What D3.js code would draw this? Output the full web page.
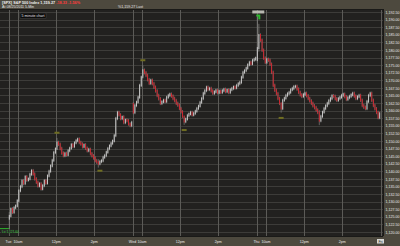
<!DOCTYPE html>
<html>
<head>
<meta charset="utf-8">
<script src="https://cdn.jsdelivr.net/npm/d3@7"></script>
<style>
  body { margin: 0; background: #22211f; }
  svg { display: block; font-family: "Liberation Sans", Arial, sans-serif; }
</style>
</head>
<body>
<div id="chart"></div>
<script>
// SPX 5-min bars, three sessions
var days = ["Tue", "Wed", "Thu"];
var nextDay = "Fri";
var hourLabels = ["10am", "12pm", "2pm"];
var hourMinutes = [30, 150, 270];   // minutes after the 9:30 open
var dayOpens = [1124.4, 1162.2, 1176.7];

var closesTue = [1125.3, 1127.6, 1126.5, 1128.0, 1128.6, 1130.3, 1133.6, 1135.0, 1136.9, 1136.0,
  1138.2, 1137.1, 1137.5, 1139.0, 1140.2, 1139.1, 1137.5, 1136.4, 1135.2, 1135.9,
  1134.2, 1135.3, 1136.9, 1136.1, 1138.5, 1140.0, 1141.8, 1143.6, 1146.2, 1147.4,
  1149.5, 1148.9, 1147.5, 1146.0, 1145.2, 1145.9, 1145.4, 1146.8, 1147.6, 1148.8,
  1148.2, 1149.4, 1150.1, 1150.6, 1149.5, 1149.0, 1148.1, 1148.7, 1147.6, 1146.8,
  1147.2, 1145.8, 1145.1, 1144.4, 1143.5, 1143.0, 1142.5, 1143.2, 1143.5, 1144.6,
  1145.2, 1146.3, 1147.5, 1148.4, 1149.2, 1150.0, 1151.8, 1157.4, 1159.4, 1158.6,
  1157.4, 1157.9, 1156.1, 1156.9, 1156.7, 1155.6, 1155.1, 1156.1];

var closesWed = [1159.4, 1161.7, 1162.8, 1164.4, 1168.3, 1171.0, 1173.3, 1172.5, 1171.6, 1170.2,
  1169.0, 1170.0, 1168.9, 1167.7, 1166.5, 1165.0, 1163.9, 1162.4, 1162.9, 1163.4,
  1163.0, 1164.4, 1165.0, 1165.4, 1164.8, 1164.0, 1163.3, 1162.4, 1161.8, 1160.7,
  1159.6, 1158.1, 1156.4, 1157.2, 1158.4, 1158.9, 1159.4, 1158.6, 1159.1, 1159.8,
  1160.7, 1161.5, 1162.7, 1164.0, 1165.7, 1166.6, 1167.7, 1167.0, 1167.3, 1166.5,
  1165.7, 1166.2, 1166.7, 1165.9, 1166.4, 1166.0, 1166.6, 1167.0, 1166.3, 1166.8,
  1166.0, 1166.9, 1167.3, 1167.8, 1167.5, 1168.3, 1168.9, 1169.3, 1171.0, 1172.6,
  1173.2, 1174.0, 1175.1, 1175.9, 1175.4, 1176.6, 1176.9, 1177.3];

var closesThu = [1180.6, 1184.9, 1183.2, 1179.9, 1177.3, 1175.9, 1176.9, 1176.6, 1175.3, 1172.6,
  1168.3, 1166.7, 1165.6, 1164.0, 1162.4, 1160.7, 1163.4, 1164.1, 1165.0, 1165.6,
  1166.0, 1166.9, 1167.3, 1167.9, 1168.0, 1167.1, 1166.0, 1165.2, 1164.7, 1165.3,
  1165.7, 1164.9, 1164.0, 1163.2, 1162.4, 1161.6, 1161.0, 1160.2, 1159.4, 1156.7,
  1158.1, 1159.5, 1160.7, 1161.6, 1162.4, 1163.3, 1164.0, 1164.9, 1164.7, 1163.9,
  1163.4, 1164.0, 1164.4, 1165.0, 1165.4, 1164.6, 1163.7, 1164.3, 1164.7, 1165.2,
  1165.7, 1164.8, 1164.0, 1164.6, 1165.0, 1163.4, 1161.7, 1161.1, 1160.7, 1163.0,
  1165.0, 1165.7, 1163.4, 1161.7, 1160.6, 1159.4, 1157.7, 1159.1];

// [day, bar, low, high] for the bars with long wicks
var wicks = [[0, 0, 1121.6, 1126.0], [0, 30, 1148.6, 1150.4], [0, 56, 1141.8, 1143.4],
  [1, 6, 1171.8, 1174.3], [1, 32, 1155.9, 1157.6], [2, 0, 1176.4, 1190.7],
  [2, 1, 1180.0, 1188.0], [2, 15, 1159.9, 1162.0], [2, 39, 1155.8, 1159.6]];

// swing markers: [day, bar, "hi" | "lo"]
var swings = [[0, 30, "hi"], [0, 57, "lo"], [1, 6, "hi"], [1, 32, "lo"], [2, 15, "lo"]];

var priceTicks = d3.range(1120, 1192.51, 2.5);

var width = 400, height = 246;
var plotRight = 383, plotTop = 10, plotBottom = 236;

var svg = d3.select("#chart").append("svg")
  .attr("width", width)
  .attr("height", height);

var x = d3.scaleLinear().domain([0, 390 * days.length]).range([8.5, 380.5]);
var y = d3.scaleLinear().domain([1120, 1192.5]).range([232, 12]);

// bars
var bars = [];
[closesTue, closesWed, closesThu].forEach(function(closes, d) {
  closes.forEach(function(c, i) {
    var o = i === 0 ? dayOpens[d] : closes[i - 1];
    var b = { day: d, i: i, t: d * 390 + i * 5 + 2.5, open: o, close: c,
      low: Math.min(o, c), high: Math.max(o, c) };
    wicks.forEach(function(w) {
      if (w[0] === d && w[1] === i) { b.low = w[2]; b.high = w[3]; }
    });
    bars.push(b);
  });
});

svg.append("rect").attr("width", width).attr("height", height).attr("fill", "#22211f");

// grid
svg.append("g").selectAll("line").data(priceTicks).enter().append("line")
  .attr("x1", 0).attr("x2", plotRight)
  .attr("y1", function(d) { return Math.round(y(d)) + 0.5; })
  .attr("y2", function(d) { return Math.round(y(d)) + 0.5; })
  .attr("stroke", "#3d3c39");

var vTicks = [];
days.forEach(function(name, d) {
  vTicks.push({ t: d * 390, label: name, day: true });
  hourMinutes.forEach(function(m, k) { vTicks.push({ t: d * 390 + m, label: hourLabels[k] }); });
});
vTicks.push({ t: 390 * days.length, label: nextDay, day: true, last: true });

svg.append("g").selectAll("line").data(vTicks).enter().append("line")
  .attr("x1", function(d) { return Math.round(x(d.t)) + 0.5; })
  .attr("x2", function(d) { return Math.round(x(d.t)) + 0.5; })
  .attr("y1", plotTop).attr("y2", plotBottom)
  .attr("stroke", "#5c5b57");

var plot = svg.append("g");

// wicks run a little past the body, as on the source chart
plot.selectAll("line.wick").data(bars).enter().append("line")
  .attr("class", "wick")
  .attr("x1", function(d) { return x(d.t); })
  .attr("x2", function(d) { return x(d.t); })
  .attr("y1", function(d) { return y(d.high) - 1.8; })
  .attr("y2", function(d) { return y(d.low) + 1.8; })
  .attr("stroke", "#8e8e8c").attr("stroke-width", 0.6);

plot.selectAll("rect.body").data(bars).enter().append("rect")
  .attr("class", "body")
  .attr("x", function(d) { return x(d.t) - 0.45; })
  .attr("width", 0.9)
  .attr("y", function(d) { return y(Math.max(d.open, d.close)) - 1; })
  .attr("height", function(d) { return Math.abs(y(d.open) - y(d.close)) + 2; })
  .attr("fill", function(d) { return d.close >= d.open ? "#d2d2d2" : "#d9222c"; });

// swing markers
plot.selectAll("rect.swing").data(swings).enter().append("rect")
  .attr("class", "swing")
  .attr("x", function(d) { return x(d[0] * 390 + d[1] * 5 + 2.5) - 2.5; })
  .attr("y", function(d) {
    var b = bars[d[0] * 78 + d[1]];
    return d[2] === "hi" ? y(b.high) - 8 : y(b.low) + 6;
  })
  .attr("width", 5).attr("height", 2)
  .attr("fill", "#6f6d22");

// session high / low flags
var hiBar = bars[2 * 78];
plot.append("rect").attr("x", x(hiBar.t) - 5).attr("y", y(hiBar.high) - 7)
  .attr("width", 12).attr("height", 3).attr("fill", "#b8b8b0");
plot.append("path")
  .attr("d", "M" + (x(hiBar.t) - 1) + "," + (y(hiBar.high) - 3) + "h4v5h-2v-3h-2z")
  .attr("fill", "#2fb82f");

var loBar = bars[0];
plot.append("line").attr("x1", 0).attr("x2", 9)
  .attr("y1", y(loBar.low) + 1.5).attr("y2", y(loBar.low) + 1.5)
  .attr("stroke", "#2fb82f");
plot.append("rect").attr("x", 1).attr("y", y(loBar.low) + 2.5)
  .attr("width", 13).attr("height", 3.5).attr("fill", "#2b2b2b");
plot.append("text").attr("x", 2).attr("y", y(loBar.low) + 5.5)
  .attr("font-size", 3.2).attr("fill", "#39c43a").text("Lo 1,121.60");

// chart type box
svg.append("rect").attr("x", 20).attr("y", 13).attr("width", 26).attr("height", 5.5)
  .attr("fill", "#0b0b0b").attr("stroke", "#555").attr("stroke-width", 0.4);
svg.append("text").attr("x", 33).attr("y", 17.2).attr("text-anchor", "middle")
  .attr("font-size", 3.6).attr("fill", "#e6e6e6").text("5 minute chart");

// header band
svg.append("rect").attr("width", width).attr("height", plotTop).attr("fill", "#4d493e");
svg.append("line").attr("x1", 0).attr("x2", width).attr("y1", plotTop - 0.5).attr("y2", plotTop - 0.5)
  .attr("stroke", "#1a1a18");
var h1 = svg.append("text").attr("x", 2).attr("y", 4).attr("font-size", 3.8).attr("fill", "#f0f0f0");
h1.append("tspan").attr("font-weight", "bold").text("[SPX] S&P 500 Index  ");
h1.append("tspan").attr("font-weight", "bold").text("1,159.27  ");
h1.append("tspan").attr("fill", "#ff3b3b").attr("font-weight", "bold").text("-18.33  -1.56%");
svg.append("text").attr("x", 2).attr("y", 8.2).attr("font-size", 3.6).attr("fill", "#e8e8e8")
  .text("At 08/25/2011      5-Min");
svg.append("text").attr("x", 118).attr("y", 8.2).attr("font-size", 3.6).attr("fill", "#e8e8e8")
  .text("%1,159.27 Last");

// right price panel
svg.append("rect").attr("x", plotRight + 1).attr("y", 0).attr("width", width - plotRight - 1)
  .attr("height", height).attr("fill", "#4d493e");
svg.append("line").attr("x1", plotRight + 0.5).attr("x2", plotRight + 0.5)
  .attr("y1", plotTop).attr("y2", plotBottom).attr("stroke", "#1a1a18");

svg.append("g")
  .attr("transform", "translate(" + (width - 0.5) + ",0)")
  .call(d3.axisLeft(y).tickValues(priceTicks).tickSize(0).tickPadding(0)
    .tickFormat(d3.format(",.2f")))
  .call(function(g) { g.select(".domain").remove(); })
  .selectAll("text")
  .attr("font-size", 3.6)
  .attr("fill", "#ececec")
  .attr("font-family", "Liberation Sans, Arial, sans-serif");

// bottom time panel
svg.append("rect").attr("x", 0).attr("y", plotBottom).attr("width", width)
  .attr("height", height - plotBottom).attr("fill", "#4d493e");
svg.append("line").attr("x1", 0).attr("x2", plotRight).attr("y1", plotBottom + 0.5).attr("y2", plotBottom + 0.5)
  .attr("stroke", "#1a1a18");

var tl = svg.append("g").selectAll("g").data(vTicks).enter().append("g");
tl.filter(function(d) { return d.last; }).append("rect")
  .attr("x", function(d) { return x(d.t) - 3.5; }).attr("y", 239)
  .attr("width", 7).attr("height", 4.5).attr("fill", "#d8d8d4");
tl.append("text")
  .attr("x", function(d) { return Math.max(4, x(d.t)); })
  .attr("y", 242.8)
  .attr("text-anchor", "middle")
  .attr("font-size", 3.6)
  .attr("fill", function(d) { return d.last ? "#222" : "#ececec"; })
  .text(function(d) { return d.label; });
</script>
</body>
</html>
